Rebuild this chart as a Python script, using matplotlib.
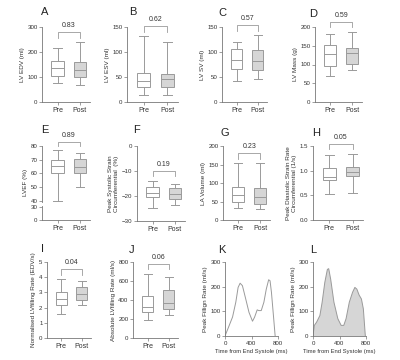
import matplotlib
matplotlib.use('Agg')
import matplotlib.pyplot as plt
import matplotlib.ticker as mtick

W, H = 400, 360

# five-number summaries: [whisker low, Q1, median, Q3, whisker high]
edv_pre = [75, 106, 135, 163, 218]
edv_post = [67, 102, 128, 159, 240]
esv_pre = [15, 31, 42, 58, 132]
esv_post = [15, 31, 46, 56, 120]
sv_pre = [42, 67, 84, 106, 121]
sv_post = [47, 65, 82, 104, 134]
mass_pre = [69, 97, 129, 151, 182]
mass_post = [86, 101, 131, 144, 187]
ef_pre = [40, 60.5, 65.1, 69.4, 77.3]
ef_post = [50, 60.0, 64.3, 70.4, 75.2]
strain_pre = [-24.6, -20.5, -18.6, -16.2, -13.9]
strain_post = [-23.4, -21.0, -19.0, -16.6, -15.3]
la_pre = [32, 50, 67, 88, 154]
la_post = [29, 44, 62, 86, 154]
sr_pre = [0.52, 0.82, 0.87, 1.06, 1.31]
sr_post = [0.54, 0.90, 0.98, 1.08, 1.34]
nfr_pre = [1.55, 2.15, 2.54, 3.05, 3.87]
nfr_post = [2.19, 2.48, 2.90, 3.38, 3.72]
afr_pre = [191, 276, 329, 439, 676]
afr_post = [241, 304, 365, 506, 641]

p_values = {'A': '0.83', 'B': '0.62', 'C': '0.57', 'D': '0.59', 'E': '0.89', 'F': '0.19',
            'G': '0.23', 'H': '0.05', 'I': '0.04', 'J': '0.06'}
groups = ['Pre', 'Post']

# filling rate curves
k_time = [0, 64, 114, 163, 198, 228, 263, 313, 362, 415, 446, 486, 511, 547, 587, 623, 659, 680, 701, 731, 757]
k_rate = [0, 43, 77, 137, 197, 214, 204, 150, 96, 60, 76, 106, 103, 103, 137, 190, 228, 224, 177, 83, 0]
l_time = [0, 20, 54, 104, 138, 178, 217, 237, 267, 316, 375, 425, 464, 499, 548, 597, 632, 662, 696, 731, 760, 790]
l_rate = [0, 43, 56, 83, 137, 217, 270, 273, 230, 137, 70, 43, 43, 70, 137, 177, 197, 190, 166, 150, 110, 0]

TXT = '#333333'
SP = '#777777'
EDGE = '#9a9a9a'
FILL = '#d6d6d6'
LAB = 4.6

plt.rcParams['font.family'] = 'Liberation Sans'
plt.rcParams['font.size'] = 4.4
plt.rcParams['text.color'] = TXT
plt.rcParams['axes.labelcolor'] = TXT
plt.rcParams['xtick.color'] = SP
plt.rcParams['ytick.color'] = SP
plt.rcParams['xtick.labelcolor'] = TXT
plt.rcParams['ytick.labelcolor'] = TXT
plt.rcParams['xtick.major.size'] = 2
plt.rcParams['ytick.major.size'] = 2
plt.rcParams['xtick.major.width'] = 0.5
plt.rcParams['ytick.major.width'] = 0.5
plt.rcParams['xtick.major.pad'] = 1.5
plt.rcParams['ytick.major.pad'] = 1.2

fig = plt.figure(figsize=(4, 3.6), dpi=100)


def rect(l, r, t, b):
    return [l / W, 1 - b / H, (r - l) / W, (b - t) / H]


def style(ax):
    for s in ['top', 'right']:
        ax.spines[s].set_visible(False)
    for s in ['left', 'bottom']:
        ax.spines[s].set_color(SP)
        ax.spines[s].set_linewidth(0.6)


def letter(x, y, s):
    fig.text(x / W, 1 - y / H, s, fontsize=8, ha='center', va='center', color='#222222')


def draw_boxes(ax, pre, post):
    stats = []
    for name, v in zip(groups, [pre, post]):
        stats.append(dict(label=name, whislo=v[0], q1=v[1], med=v[2], q3=v[3], whishi=v[4], fliers=[]))
    lp = dict(color=EDGE, linewidth=0.7)
    bp = ax.bxp(stats, positions=[1, 2], widths=0.55, capwidths=0.38, patch_artist=True,
                showfliers=False, boxprops=dict(edgecolor=EDGE, linewidth=0.7),
                whiskerprops=lp, capprops=lp, medianprops=lp)
    bp['boxes'][0].set_facecolor('white')
    bp['boxes'][1].set_facecolor(FILL)


def bracket(ax, top, span, p):
    y = top + 0.13 * span
    arm = 0.07 * span
    ax.plot([1, 1, 2, 2], [y - arm, y, y, y - arm], color=EDGE, lw=0.6, clip_on=False)
    ax.text(1.5, y + 0.04 * span, p, ha='center', va='bottom', fontsize=5, clip_on=False)


def box_panel(r, pre, post, key, ylim, yticks, ylabel):
    ax = fig.add_axes(rect(*r))
    draw_boxes(ax, pre, post)
    ax.set_xlim(0.3, 2.45)
    ax.set_ylim(*ylim)
    ax.set_yticks(yticks)
    ax.set_xticks([1, 2])
    ax.set_xticklabels(groups, fontsize=5)
    ax.set_ylabel(ylabel, fontsize=LAB, labelpad=2)
    style(ax)
    bracket(ax, max(pre[4], post[4]), ylim[1] - ylim[0], p_values[key])
    return ax


# row 1
box_panel((42, 90, 27, 102), edv_pre, edv_post, 'A', (0, 300), [0, 100, 200, 300], 'LV EDV (ml)')
box_panel((127, 178, 27, 102), esv_pre, esv_post, 'B', (0, 150), [0, 50, 100, 150], 'LV ESV (ml)')
box_panel((222, 267, 27, 102), sv_pre, sv_post, 'C', (0, 150), [0, 50, 100, 150], 'LV SV (ml)')
box_panel((315, 362, 27, 102), mass_pre, mass_post, 'D', (0, 200), [0, 50, 100, 150, 200], 'LV Mass (g)')

# row 2, E has a broken y axis
ax_e = fig.add_axes(rect(42, 90, 146, 202))
draw_boxes(ax_e, ef_pre, ef_post)
ax_e.set_xlim(0.3, 2.45)
ax_e.set_ylim(39, 80)
ax_e.set_yticks([40, 50, 60, 70, 80])
ax_e.set_xticks([])
style(ax_e)
ax_e.spines['bottom'].set_visible(False)
ax_e.set_ylabel('LVEF (%)', fontsize=LAB, labelpad=2, y=0.35)
bracket(ax_e, 77.3, 45, p_values['E'])
ax_e2 = fig.add_axes(rect(42, 90, 206, 220))
ax_e2.set_xlim(0.3, 2.45)
ax_e2.set_ylim(0, 33)
ax_e2.set_yticks([0, 30])
ax_e2.set_xticks([1, 2])
ax_e2.set_xticklabels(groups, fontsize=5)
style(ax_e2)

box_panel((137, 185, 146, 221), strain_pre, strain_post, 'F', (-30, 0), [-30, -20, -10, 0],
          'Peak Systolic Strain\nCircumferential  (%)')
box_panel((223, 270, 146, 220), la_pre, la_post, 'G', (0, 200), [0, 50, 100, 150, 200], 'LA Volume (ml)')
ax_h = box_panel((313, 363, 146, 220), sr_pre, sr_post, 'H', (0, 1.5), [0.0, 0.5, 1.0, 1.5],
                 'Peak Diastolic Strain Rate\nCircumferential (1/s)')
ax_h.yaxis.set_major_formatter(mtick.FormatStrFormatter('%.1f'))

# row 3
box_panel((47, 91, 262, 338), nfr_pre, nfr_post, 'I', (0, 5), [0, 1, 2, 3, 4, 5],
          'Normalised LVfilling Rate (EDV/s)')
box_panel((133, 178, 262, 338), afr_pre, afr_post, 'J', (0, 800), [0, 200, 400, 600, 800],
          'Absolute LVfilling Rate (ml/s)')

for r, t, v, fill in [((225, 278, 262, 336), k_time, k_rate, False),
                      ((313, 366, 262, 336), l_time, l_rate, True)]:
    ax = fig.add_axes(rect(*r))
    if fill:
        ax.fill_between(t, v, 0, facecolor=FILL, edgecolor='none')
    ax.plot(t, v, color=EDGE, lw=0.7)
    ax.set_xlim(0, 800)
    ax.set_ylim(0, 300)
    ax.set_xticks([0, 400, 800])
    ax.set_yticks([0, 100, 200, 300])
    ax.set_ylabel('Peak Fillign Rate (ml/s)', fontsize=LAB, labelpad=2)
    ax.set_xlabel('Time from End Systole (ms)', fontsize=4.2, labelpad=2.5)
    style(ax)

for s, x, y in [('A', 45, 12), ('B', 133, 12), ('C', 222, 13), ('D', 313, 14),
                ('E', 45, 130), ('F', 136, 130), ('G', 225, 133), ('H', 316, 133),
                ('I', 42, 249), ('J', 132, 250), ('K', 222, 250), ('L', 313, 250)]:
    letter(x, y, s)

fig.savefig('out.png', dpi=100, facecolor='white')
